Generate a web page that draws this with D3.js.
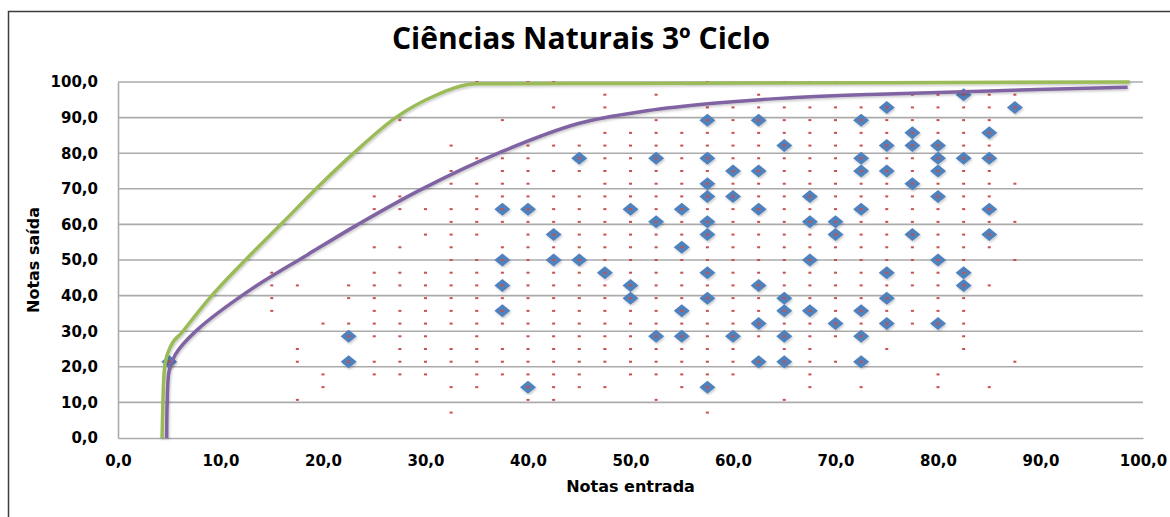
<!DOCTYPE html>
<html>
<head>
<meta charset="utf-8">
<script src="https://cdn.jsdelivr.net/npm/d3@7"></script>
<style>
  html, body { margin: 0; padding: 0; background: #fff; }
  svg { display: block; }
</style>
</head>
<body>
<svg id="chart" width="1170" height="517"></svg>
<script>
// ---------- DATA ----------
const title = "Ciências Naturais 3º Ciclo";
const xTitle = "Notas entrada";
const yTitle = "Notas saída";
const xTicks = [0, 10, 20, 30, 40, 50, 60, 70, 80, 90, 100];
const yTicks = [0, 10, 20, 30, 40, 50, 60, 70, 80, 90, 100];

// Blue diamonds (Notas entrada, Notas saída)
const diamondX = [5, 22.5, 22.5, 37.5, 37.5, 37.5, 37.5, 40, 40, 42.5, 42.5, 45, 45, 47.5, 50, 50, 50,
  52.5, 52.5, 52.5, 55, 55, 55, 55,
  57.5, 57.5, 57.5, 57.5, 57.5, 57.5, 57.5, 57.5, 57.5,
  60, 60, 60,
  62.5, 62.5, 62.5, 62.5, 62.5, 62.5,
  65, 65, 65, 65, 65,
  67.5, 67.5, 67.5, 67.5,
  70, 70, 70,
  72.5, 72.5, 72.5, 72.5, 72.5, 72.5, 72.5,
  75, 75, 75, 75, 75, 75,
  77.5, 77.5, 77.5, 77.5,
  80, 80, 80, 80, 80, 80,
  82.5, 82.5, 82.5, 82.5,
  85, 85, 85, 85,
  87.5];
const diamondY = [21.43, 28.57, 21.43, 64.29, 50.00, 42.86, 35.71, 64.29, 14.29, 57.14, 50.00, 78.57, 50.00, 46.43, 64.29, 42.86, 39.29,
  78.57, 60.71, 28.57, 64.29, 53.57, 35.71, 28.57,
  89.29, 78.57, 71.43, 67.86, 60.71, 57.14, 46.43, 39.29, 14.29,
  75.00, 67.86, 28.57,
  89.29, 75.00, 64.29, 42.86, 32.14, 21.43,
  82.14, 39.29, 35.71, 28.57, 21.43,
  67.86, 60.71, 50.00, 35.71,
  60.71, 57.14, 32.14,
  89.29, 78.57, 75.00, 64.29, 35.71, 28.57, 21.43,
  92.86, 82.14, 75.00, 46.43, 39.29, 32.14,
  85.71, 82.14, 71.43, 57.14,
  82.14, 78.57, 75.00, 67.86, 50.00, 32.14,
  96.43, 78.57, 46.43, 42.86,
  85.71, 78.57, 64.29, 57.14,
  92.86];

// Small red markers: one row per Notas saída level, with the Notas entrada values on that row
const redLevels = [100.00, 96.43, 92.86, 89.29, 85.71, 82.14, 78.57, 75.00, 71.43, 67.86, 64.29, 60.71,
  57.14, 53.57, 50.00, 46.43, 42.86, 39.29, 35.71, 32.14, 28.57, 25.00, 21.43, 17.86, 14.29, 10.71, 7.14];
const redRows = [
  [35, 40, 42.5, 57.5, 65, 67.5, 70, 72.5, 75, 77.5, 80, 82.5, 85],
  [47.5, 52.5, 62.5, 72.5, 77.5, 80, 82.5, 85, 87.5],
  [42.5, 47.5, 57.5, 60, 62.5, 65, 67.5, 70, 72.5, 75, 77.5, 80, 82.5, 85, 87.5],
  [27.5, 37.5, 52.5, 57.5, 60, 62.5, 65, 67.5, 70, 72.5, 75, 77.5, 80, 82.5, 85],
  [47.5, 50, 52.5, 55, 57.5, 60, 62.5, 65, 67.5, 70, 72.5, 75, 77.5, 80, 82.5, 85],
  [32.5, 40, 42.5, 45, 47.5, 50, 52.5, 55, 57.5, 60, 62.5, 65, 67.5, 70, 72.5, 75, 77.5, 80, 82.5, 85],
  [35, 37.5, 40, 45, 47.5, 50, 52.5, 55, 57.5, 60, 62.5, 65, 67.5, 70, 72.5, 75, 77.5, 80, 82.5, 85],
  [32.5, 37.5, 40, 42.5, 45, 47.5, 50, 52.5, 55, 57.5, 60, 62.5, 65, 67.5, 70, 72.5, 75, 77.5, 80, 82.5, 85],
  [32.5, 35, 37.5, 40, 47.5, 50, 52.5, 55, 57.5, 60, 62.5, 65, 67.5, 70, 72.5, 75, 77.5, 80, 82.5, 85, 87.5],
  [25, 27.5, 35, 37.5, 40, 42.5, 45, 47.5, 50, 52.5, 55, 57.5, 60, 62.5, 65, 67.5, 70, 72.5, 75, 77.5, 80, 82.5, 85],
  [25, 27.5, 30, 32.5, 35, 37.5, 40, 42.5, 45, 47.5, 50, 52.5, 55, 57.5, 60, 62.5, 65, 67.5, 70, 72.5, 75, 77.5, 80, 82.5, 85],
  [32.5, 35, 37.5, 40, 42.5, 45, 47.5, 50, 52.5, 55, 57.5, 60, 62.5, 65, 67.5, 70, 72.5, 75, 77.5, 80, 82.5, 85, 87.5],
  [30, 32.5, 35, 40, 42.5, 45, 47.5, 50, 52.5, 55, 57.5, 60, 62.5, 65, 67.5, 70, 72.5, 75, 77.5, 80, 82.5, 85],
  [25, 27.5, 32.5, 37.5, 40, 42.5, 45, 47.5, 50, 52.5, 55, 57.5, 60, 62.5, 65, 67.5, 70, 72.5, 75, 77.5, 80, 82.5, 85],
  [32.5, 35, 37.5, 40, 42.5, 45, 47.5, 50, 52.5, 55, 57.5, 60, 62.5, 65, 67.5, 70, 72.5, 75, 77.5, 80, 82.5, 87.5],
  [15, 25, 27.5, 30, 32.5, 35, 37.5, 40, 42.5, 45, 47.5, 50, 52.5, 55, 57.5, 60, 62.5, 65, 67.5, 70, 72.5, 75, 77.5, 80, 82.5],
  [15, 17.5, 22.5, 25, 27.5, 30, 32.5, 35, 37.5, 40, 42.5, 45, 47.5, 50, 52.5, 55, 57.5, 60, 62.5, 65, 67.5, 70, 72.5, 75, 77.5, 80, 82.5, 85],
  [15, 22.5, 25, 30, 32.5, 35, 37.5, 40, 42.5, 45, 47.5, 50, 52.5, 55, 57.5, 60, 62.5, 65, 67.5, 70, 72.5, 75, 80, 82.5],
  [15, 25, 27.5, 30, 32.5, 35, 37.5, 40, 42.5, 45, 47.5, 50, 52.5, 55, 57.5, 60, 62.5, 65, 67.5, 70, 72.5, 75, 77.5, 80, 82.5],
  [20, 22.5, 25, 27.5, 30, 32.5, 35, 37.5, 40, 42.5, 45, 47.5, 50, 52.5, 55, 57.5, 60, 62.5, 65, 67.5, 70, 72.5, 75, 77.5, 80, 82.5],
  [22.5, 25, 27.5, 30, 35, 40, 42.5, 45, 47.5, 50, 52.5, 55, 57.5, 60, 62.5, 65, 67.5, 70, 72.5, 82.5],
  [17.5, 27.5, 30, 32.5, 35, 37.5, 40, 42.5, 45, 47.5, 50, 52.5, 55, 57.5, 60, 65, 67.5, 75, 82.5],
  [5, 17.5, 22.5, 25, 27.5, 30, 32.5, 35, 37.5, 40, 42.5, 45, 47.5, 50, 52.5, 55, 57.5, 60, 62.5, 65, 67.5, 70, 72.5, 87.5],
  [20, 25, 27.5, 30, 35, 37.5, 40, 42.5, 45, 50, 52.5, 55, 57.5, 60, 67.5, 80],
  [20, 32.5, 35, 40, 42.5, 45, 47.5, 55, 57.5, 67.5, 72.5, 80, 85],
  [17.5, 40, 42.5, 52.5, 65],
  [32.5, 57.5]
];

// Curves
const greenX = [4.3, 4.4, 4.6, 5.1, 6.2, 9.0, 12.6, 16.0, 19.5, 23.1, 27.2, 30.8, 35.0, 50, 75, 98.7];
const greenY = [0, 12, 21, 25.5, 29.5, 39.5, 50.5, 60.3, 70.5, 80.3, 90.2, 96.0, 99.5, 99.6, 99.8, 100];
const purpleX = [4.75, 4.8, 5.0, 5.6, 7.7, 12.9, 18.5, 23.3, 29.5, 37.5, 45, 51.6, 58.1, 64.6, 73.4, 85, 98.5];
const purpleY = [0, 10, 19, 23.5, 30.3, 41.6, 51.5, 59.8, 69.7, 80.5, 88.4, 91.9, 94.0, 95.4, 96.5, 97.5, 98.5];

// ---------- DRAW ----------
const svg = d3.select("#chart");
const W = 1170, H = 517;
const x = d3.scaleLinear().domain([0, 100]).range([118, 1143]);
const y = d3.scaleLinear().domain([0, 100]).range([438, 82]);
const fmt = v => d3.format(".1f")(v).replace(".", ",");

const defs = svg.append("defs");
const sh = defs.append("filter").attr("id", "shadow").attr("x", "-10%").attr("y", "-10%").attr("width", "120%").attr("height", "120%");
sh.append("feDropShadow").attr("dx", 1).attr("dy", 1.5).attr("stdDeviation", 1)
  .attr("flood-color", "#000").attr("flood-opacity", 0.22);

// outer frame
svg.append("rect").attr("x", 8.5).attr("y", 11.5).attr("width", W + 20).attr("height", H + 20)
  .attr("fill", "#fff").attr("stroke", "#3c3c3c").attr("stroke-width", 1.5);

// title
svg.append("text").attr("x", 581).attr("y", 49).attr("text-anchor", "middle")
  .attr("font-family", "'Open Sans', sans-serif").attr("font-weight", "bold").attr("font-size", 30)
  .attr("fill", "#000").text(title);

// gridlines
const g = svg.append("g");
g.selectAll("line.grid").data(yTicks.filter(d => d > 0)).join("line")
  .attr("class", "grid")
  .attr("x1", x(0)).attr("x2", x(100))
  .attr("y1", d => y(d)).attr("y2", d => y(d))
  .attr("stroke", "#ababab").attr("stroke-width", 1.6);

// axes (no tick marks)
const yAxis = d3.axisLeft(y).tickValues(yTicks).tickFormat(fmt).tickSize(0).tickPadding(20);
const xAxis = d3.axisBottom(x).tickValues(xTicks).tickFormat(fmt).tickSize(0).tickPadding(17);
const ya = svg.append("g").attr("transform", `translate(${x(0)},0)`).call(yAxis);
const xa = svg.append("g").attr("transform", `translate(0,${y(0)})`).call(xAxis);
[ya, xa].forEach(a => {
  a.select(".domain").attr("stroke", "#ababab").attr("stroke-width", 1.6);
  a.selectAll("text").attr("font-family", "'DejaVu Sans', sans-serif").attr("font-weight", "bold")
    .attr("font-size", 15).attr("fill", "#000");
});

// axis titles
svg.append("text").attr("x", x(50)).attr("y", 492).attr("text-anchor", "middle")
  .attr("font-family", "'DejaVu Sans', sans-serif").attr("font-weight", "bold").attr("font-size", 16)
  .text(xTitle);
svg.append("text").attr("transform", `translate(39,${y(50)}) rotate(-90)`).attr("text-anchor", "middle")
  .attr("font-family", "'DejaVu Sans', sans-serif").attr("font-weight", "bold").attr("font-size", 16)
  .text(yTitle);

// diamonds
const diamonds = diamondX.map((d, i) => [d, diamondY[i]]);
svg.append("g").selectAll("path").data(diamonds).join("path")
  .attr("d", d => {
    const cx = x(d[0]), cy = y(d[1]);
    return `M${cx - 8},${cy}L${cx},${cy - 6.5}L${cx + 8},${cy}L${cx},${cy + 6.5}Z`;
  })
  .attr("fill", "#4F81BD").attr("filter", "url(#shadow)");

// red markers
const reds = [];
redLevels.forEach((lv, i) => redRows[i].forEach(v => reds.push([v, lv])));
svg.append("g").selectAll("rect").data(reds).join("rect")
  .attr("x", d => x(d[0]) - 1.5).attr("y", d => y(d[1]) - 1)
  .attr("width", 3).attr("height", 2).attr("fill", "#C8504D");

// lines
const greenLine = d3.line().x(d => x(d[0])).y(d => y(d[1])).curve(d3.curveMonotoneX);
const purpleLine = d3.line().x(d => x(d[0])).y(d => y(d[1])).curve(d3.curveCatmullRom.alpha(0.5));
svg.append("path").datum(greenX.map((d, i) => [d, greenY[i]])).attr("d", greenLine)
  .attr("fill", "none").attr("stroke", "#9BBB59").attr("stroke-width", 3.5).attr("filter", "url(#shadow)");
svg.append("path").datum(purpleX.map((d, i) => [d, purpleY[i]])).attr("d", purpleLine)
  .attr("fill", "none").attr("stroke", "#8064A2").attr("stroke-width", 3.5).attr("filter", "url(#shadow)");
</script>
</body>
</html>
